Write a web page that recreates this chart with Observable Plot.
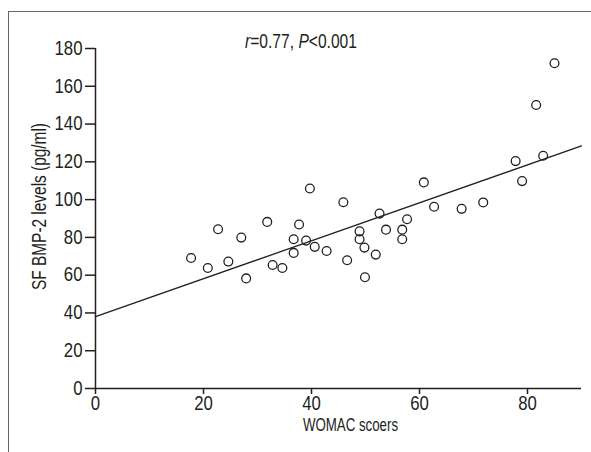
<!DOCTYPE html>
<html>
<head>
<meta charset="utf-8">
<script src="https://cdn.jsdelivr.net/npm/d3@7"></script>
<script src="https://cdn.jsdelivr.net/npm/@observablehq/plot@0.6"></script>
<style>
  html, body { margin: 0; padding: 0; background: #fff; }
  #wrap { position: relative; width: 591px; height: 452px; overflow: hidden; font-family: "Liberation Sans", Arial, sans-serif; }
  #frame { position: absolute; left: 8px; top: 11px; right: -10px; bottom: -10px; border-top: 1.5px solid #666; border-left: 1.5px solid #666; pointer-events: none; }
  #note { position: absolute; left: 101px; width: 400px; top: 31px; line-height: 20px; text-align: center; font-size: 19.5px; color: #231f20; white-space: nowrap; transform: scaleX(0.8); transform-origin: 50% 50%; }
  svg { position: absolute; left: 0; top: 0; }
</style>
</head>
<body>
<div id="wrap">
  <div id="frame"></div>
  <div id="note"><i>r</i>=0.77, <i>P</i>&lt;0.001</div>
</div>
<script>
// WOMAC scores (x) and SF BMP-2 levels (y)
const womac = [17.7, 20.8, 22.7, 24.6, 27.0, 27.9, 31.8, 32.8, 34.6, 36.7, 36.7, 37.7,
  39.7, 39.0, 40.6, 42.8, 45.9, 46.6, 48.9, 48.9, 49.8, 49.9, 51.9, 52.6, 53.8, 56.8, 56.8, 57.7, 60.8, 62.7,
  67.8, 71.8, 77.8, 79.0, 81.6, 82.9, 85.0];
const bmp2 = [69.1, 63.8, 84.3, 67.2, 79.9, 58.3, 88.2, 65.4, 63.8, 79.0, 71.8, 86.8,
  105.9, 78.3, 75.0, 72.8, 98.6, 67.9, 83.2, 79.0, 74.6, 58.9, 70.9, 92.6, 84.1, 84.1, 79.0, 89.6, 109.1, 96.2,
  95.1, 98.5, 120.4, 109.8, 150.1, 123.2, 172.2];
// fitted regression line (intercept, slope)
const fitIntercept = 38.0;
const fitSlope = 1.005;
const xDomain = [0, 90];
const yDomain = [0, 180];
const xTicks = [0, 20, 40, 60, 80];
const yTicks = [0, 20, 40, 60, 80, 100, 120, 140, 160, 180];
const xLabel = "WOMAC scoers";
const yLabel = "SF BMP-2 levels (pg/ml)";

const points = womac.map((x, i) => ({x, y: bmp2[i]}));
const fit = xDomain.map(x => ({x, y: fitIntercept + fitSlope * x}));
const ink = "#231f20";

const chart = Plot.plot({
  width: 591,
  height: 452,
  marginLeft: 95,
  marginRight: 10,
  marginTop: 48,
  marginBottom: 64,
  style: {fontFamily: '"Liberation Sans", Arial, sans-serif', fontSize: "19.5px", color: ink, background: "transparent"},
  x: {domain: xDomain},
  y: {domain: yDomain},
  marks: [
    Plot.axisY({ticks: yTicks, tickSize: 10, tickPadding: 3, label: null, stroke: ink, strokeWidth: 1.5}),
    Plot.axisX({ticks: xTicks, tickSize: 6, tickPadding: 2, label: null, stroke: ink, strokeWidth: 1.5}),
    Plot.ruleX([0], {y1: yDomain[0], y2: yDomain[1], stroke: ink, strokeWidth: 1.5}),
    Plot.ruleY([0], {x1: xDomain[0], x2: xDomain[1], stroke: ink, strokeWidth: 1.5}),
    Plot.line(fit, {x: "x", y: "y", stroke: ink, strokeWidth: 1.3}),
    Plot.dot(points, {x: "x", y: "y", r: 4.4, stroke: ink, strokeWidth: 1.3, fill: "none"}),
    Plot.text([xLabel], {frameAnchor: "bottom", dx: 12, dy: 42, fontSize: 18, text: d => d, fill: ink}),
    Plot.text([yLabel], {frameAnchor: "left", textAnchor: "middle", dx: -56, dy: -12, rotate: -90, text: d => d, fill: ink})
  ]
});
document.getElementById("wrap").prepend(chart);

// condense the glyphs to imitate the narrow typeface of the original
function condenseEl(t, k) {
  const L = t.getComputedTextLength();
  if (L > 0) {
    t.setAttribute("textLength", (L * k).toFixed(2));
    t.setAttribute("lengthAdjust", "spacingAndGlyphs");
  }
}
chart.querySelectorAll('g[aria-label="y-axis tick label"] text, g[aria-label="x-axis tick label"] text')
  .forEach(t => condenseEl(t, 0.86));
const textGroups = chart.querySelectorAll('g[aria-label="text"]');
textGroups[0].querySelectorAll("text").forEach(t => condenseEl(t, 0.737));
textGroups[1].querySelectorAll("text").forEach(t => condenseEl(t, 0.79));
</script>
</body>
</html>
